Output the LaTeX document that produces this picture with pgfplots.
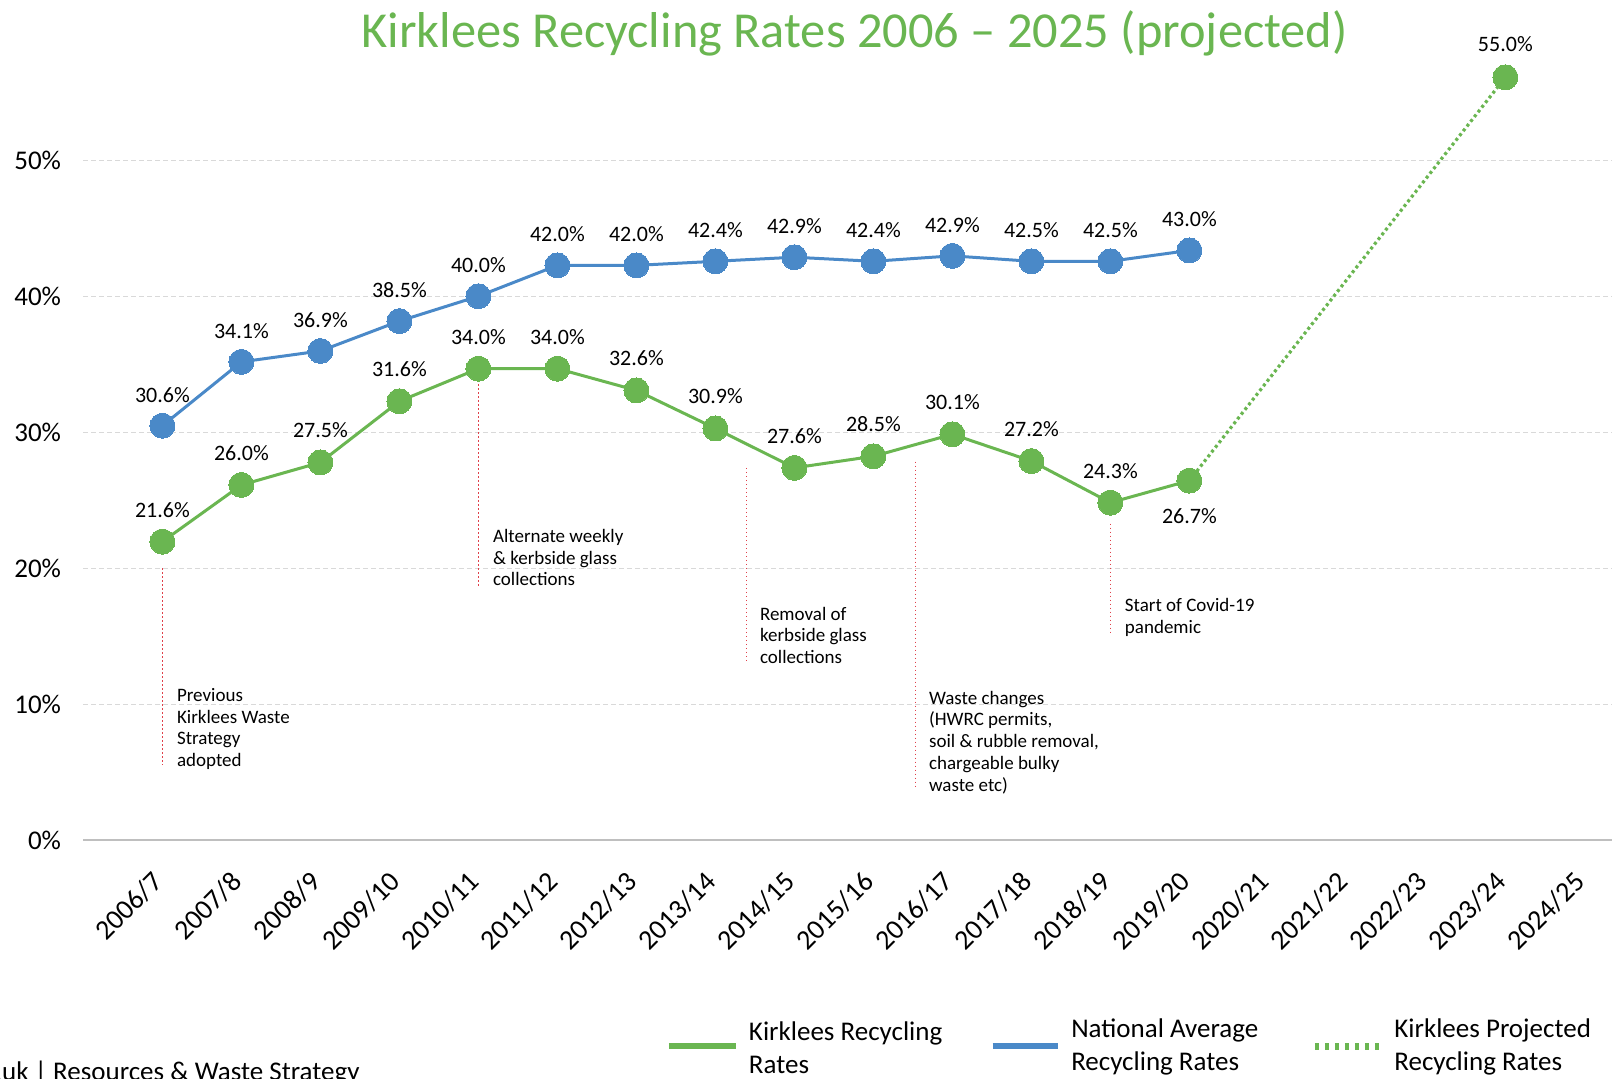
\documentclass[border=0pt]{standalone}
\usepackage{pgfplots}
\pgfplotsset{compat=1.18}
\usepackage{fontspec}
\setmainfont{Carlito}
\definecolor{kgreen}{HTML}{6AB651}
\definecolor{kblue}{HTML}{4A89C8}
\definecolor{kred}{HTML}{E0404A}
\definecolor{kgrid}{HTML}{D9D9D9}
\definecolor{kaxis}{HTML}{BFBFBF}
\begin{document}
\begin{tikzpicture}
\begin{axis}[
  scale only axis,
  width=764.3pt, height=420.1pt,
  xmin=-1, xmax=18.35, ymin=0, ymax=61.83,
  axis x line*=bottom, axis y line*=left,
  x axis line style={draw=kaxis, line width=1pt, -},
  y axis line style={draw=none},
  xtick={0,...,18},
  xticklabels={2006/7,2007/8,2008/9,2009/10,2010/11,2011/12,2012/13,2013/14,2014/15,2015/16,2016/17,2017/18,2018/19,2019/20,2020/21,2021/22,2022/23,2023/24,2024/25},
  ytick={0,10,20,30,40,50},
  yticklabel={\pgfmathprintnumber{\tick}\%},
  major tick length=0pt,
  ymajorgrids,
  grid style={kgrid, line width=0.75pt, dash pattern=on 2.5pt off 1.5pt},
  tick label style={text=black},
  yticklabel style={font=\fontsize{13.5}{16}\selectfont, anchor=east, inner sep=0pt, xshift=-11pt},
  xticklabel style={font=\fontsize{14}{16}\selectfont, rotate=45, anchor=north east, inner sep=0pt, xshift=-3.2pt, yshift=5.3pt},
  xticklabel shift=16pt,
  /pgf/number format/assume math mode=true,
  clip=false,
  every node near coord/.append style={font=\fontsize{11}{12}\selectfont, text=black, anchor=center},
]
% annotation lines
\addplot[kred, line width=0.6pt, dash pattern=on 0.7pt off 1.3pt, mark=none] coordinates {(0,20.0) (0,5.5)};
\addplot[kred, line width=0.6pt, dash pattern=on 0.7pt off 1.3pt, mark=none] coordinates {(4,33.85) (4,18.6)};
\addplot[kred, line width=0.6pt, dash pattern=on 0.7pt off 1.3pt, mark=none] coordinates {(7.39,27.4) (7.39,13.0)};
\addplot[kred, line width=0.6pt, dash pattern=on 0.7pt off 1.3pt, mark=none] coordinates {(9.535,27.86) (9.535,3.8)};
\addplot[kred, line width=0.6pt, dash pattern=on 0.7pt off 1.3pt, mark=none] coordinates {(12,23.3) (12,15.3)};
% projected
\addplot[kgreen, line width=1.6pt, dash pattern=on 1.5pt off 1.5pt, mark=none] coordinates {(13,26.46) (17,56.14)};
% Kirklees
\addplot[kgreen, line width=1.5pt, mark=*, mark size=6.25pt,
  mark options={solid, fill=kgreen, draw=kgreen, line width=0pt},
  nodes near coords, point meta=explicit symbolic,
  every node near coord/.append style={yshift=16pt}]
coordinates {
(0,21.97)[21.6\%] (1,26.14)[26.0\%] (2,27.8)[27.5\%] (3,32.3)[31.6\%]
(4,34.7)[34.0\%] (5,34.7)[34.0\%] (6,33.1)[32.6\%] (7,30.3)[30.9\%]
(8,27.4)[27.6\%] (9,28.25)[28.5\%] (10,29.87)[30.1\%] (11,27.9)[27.2\%]
(12,24.84)[24.3\%] (13,26.46)[]
};
\addplot[draw=none, mark=none, nodes near coords, point meta=explicit symbolic,
  every node near coord/.append style={yshift=-17.5pt}]
coordinates {(13,26.46)[26.7\%]};
\addplot[kgreen, only marks, mark=*, mark size=6.25pt,
  mark options={solid, fill=kgreen, draw=kgreen, line width=0pt},
  nodes near coords, point meta=explicit symbolic,
  every node near coord/.append style={yshift=16.5pt}]
coordinates {(17,56.14)[55.0\%]};
% National
\addplot[kblue, line width=1.5pt, mark=*, mark size=6.25pt,
  mark options={solid, fill=kblue, draw=kblue, line width=0pt},
  nodes near coords, point meta=explicit symbolic,
  every node near coord/.append style={yshift=15.5pt}]
coordinates {
(0,30.5)[30.6\%] (1,35.2)[34.1\%] (2,36.0)[36.9\%] (3,38.2)[38.5\%]
(4,40.03)[40.0\%] (5,42.3)[42.0\%] (6,42.3)[42.0\%] (7,42.6)[42.4\%]
(8,42.9)[42.9\%] (9,42.6)[42.4\%] (10,43.0)[42.9\%] (11,42.6)[42.5\%]
(12,42.6)[42.5\%] (13,43.4)[43.0\%]
};
% annotations
\begin{scope}[every node/.style={anchor=north west, align=left, inner sep=0pt, font=\fontsize{9.5}{10.85}\selectfont}]
\node at (axis cs:0.18,11.2) {Previous\\Kirklees Waste\\Strategy\\adopted};
\node at (axis cs:4.18,22.9) {Alternate weekly\\\& kerbside glass\\collections};
\node at (axis cs:7.56,17.2) {Removal of\\kerbside glass\\collections};
\node at (axis cs:9.70,11.0) {Waste changes\\(HWRC permits,\\soil \& rubble removal,\\chargeable bulky\\waste etc)};
\node at (axis cs:12.18,17.8) {Start of Covid-19\\pandemic};
\end{scope}
% title
\node[anchor=base, inner sep=0pt, font=\fontsize{25.2}{29}\selectfont, text=kgreen] at (axis cs:8.76,58.3) {Kirklees Recycling Rates 2006 – 2025 (projected)};
% legend
\draw[kgreen, line width=3.1pt] (axis cs:6.41,-15.17) -- (axis cs:7.26,-15.17);
\node[anchor=west, align=left, inner sep=0pt, font=\fontsize{13.5}{16.5}\selectfont] at (axis cs:7.42,-15.24) {Kirklees Recycling\\Rates};
\draw[kblue, line width=3.1pt] (axis cs:10.51,-15.17) -- (axis cs:11.34,-15.17);
\node[anchor=west, align=left, inner sep=0pt, font=\fontsize{13.5}{16.5}\selectfont] at (axis cs:11.50,-15.24) {National Average\\Recycling Rates};
\draw[kgreen, line width=3.5pt, dash pattern=on 2pt off 3pt] (axis cs:14.59,-15.17) -- (axis cs:15.43,-15.17);
\node[anchor=west, align=left, inner sep=0pt, font=\fontsize{13.5}{16.5}\selectfont] at (axis cs:15.59,-15.24) {Kirklees Projected\\Recycling Rates};
% footer
\node[anchor=base east, inner sep=0pt, font=\fontsize{13.5}{16}\selectfont] at (axis cs:2.50,-17.7) {kirklees.gov.uk | Resources \& Waste Strategy};
\coordinate (bbsw) at (axis cs:-2.056,-17.56);
\coordinate (bbne) at (axis cs:18.35,61.83);
\end{axis}
\pgfresetboundingbox
\useasboundingbox (bbsw) rectangle (bbne);
\end{tikzpicture}
\end{document}
